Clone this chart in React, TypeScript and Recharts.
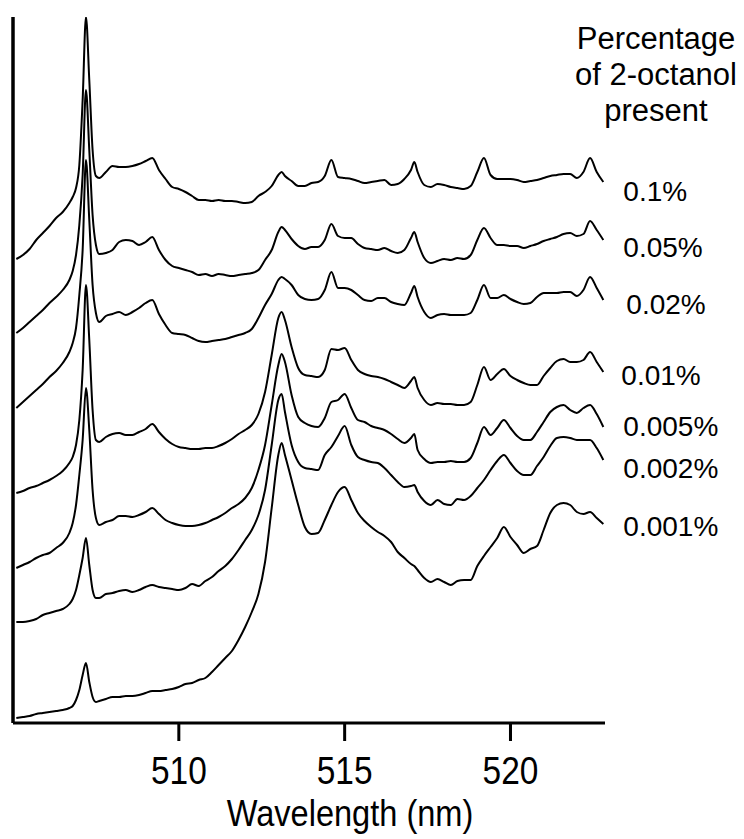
import React from "react";
import { Label, Line, LineChart, XAxis, YAxis } from "recharts";

// wavelength grid (nm) shared by every spectrum
const WAVELENGTH = [
  505.1, 505.3, 505.5, 505.7, 505.9, 506.1, 506.3, 506.5, 506.7, 506.8, 506.9,
  507.0, 507.1, 507.2, 507.3, 507.4, 507.5, 507.6, 507.8, 508.0, 508.2, 508.4,
  508.6, 508.8, 509.0, 509.2, 509.4, 509.6, 509.8, 510.0, 510.2, 510.4, 510.6,
  510.8, 511.0, 511.2, 511.4, 511.6, 511.8, 512.0, 512.2, 512.4, 512.6, 512.8,
  513.0, 513.1, 513.2, 513.4, 513.6, 513.8, 514.0, 514.2, 514.4, 514.6, 514.8,
  515.0, 515.2, 515.4, 515.6, 515.8, 516.0, 516.2, 516.4, 516.6, 516.8, 517.0,
  517.1, 517.2, 517.4, 517.6, 517.8, 518.0, 518.2, 518.4, 518.6, 518.8, 519.0,
  519.2, 519.4, 519.6, 519.8, 520.0, 520.2, 520.4, 520.6, 520.8, 521.0, 521.2,
  521.4, 521.6, 521.8, 522.0, 522.2, 522.4, 522.6, 522.8,
];

// offset intensities (a.u.), one array per 2-octanol level
const PCT_0_1 = [
  46.4, 46.8, 47.4, 48.3, 49.0, 49.7, 50.5, 51.1, 52.0, 52.6, 53.5, 55.8, 62.3,
  70.6, 64.3, 57.3, 54.7, 54.5, 55.1, 55.7, 55.6, 55.6, 55.7, 55.9, 56.2, 56.5,
  55.3, 54.4, 53.6, 53.4, 53.1, 52.7, 52.3, 52.3, 52.2, 52.3, 52.2, 52.2, 52.1,
  52.0, 52.1, 52.7, 53.1, 53.7, 54.8, 55.1, 54.7, 54.2, 53.7, 53.7, 54.0, 54.1,
  54.7, 56.3, 54.6, 54.5, 54.4, 54.2, 54.0, 54.1, 54.2, 54.3, 53.8, 53.9, 54.4,
  55.3, 56.1, 55.1, 53.8, 53.6, 53.9, 53.8, 53.6, 53.5, 53.4, 53.7, 55.1, 56.5,
  54.8, 54.4, 54.4, 54.4, 54.3, 54.1, 54.2, 54.3, 54.5, 54.7, 54.8, 54.9, 54.9,
  54.5, 55.1, 56.5, 55.1, 54.1,
];
const PCT_0_05 = [
  39.0, 39.5, 40.1, 40.7, 41.3, 42.0, 42.6, 43.3, 44.3, 45.2, 46.8, 49.8, 54.8,
  63.3, 57.3, 50.8, 47.8, 46.9, 47.0, 47.3, 48.1, 48.3, 48.2, 47.8, 48.1, 48.6,
  47.3, 46.3, 45.7, 45.5, 45.3, 45.1, 44.8, 44.9, 44.7, 44.9, 44.8, 44.7, 44.8,
  44.9, 45.0, 45.3, 46.3, 47.3, 49.1, 49.6, 49.3, 48.4, 47.7, 47.4, 47.6, 47.6,
  48.3, 49.9, 48.7, 48.5, 48.5, 47.9, 47.5, 47.4, 47.3, 47.5, 47.2, 47.0, 47.3,
  48.5, 49.1, 48.1, 46.5, 46.0, 46.2, 46.4, 46.3, 46.5, 46.4, 46.8, 48.3, 49.5,
  48.5, 47.8, 47.8, 47.7, 47.7, 47.5, 47.7, 47.9, 48.2, 48.4, 48.6, 48.9, 49.0,
  48.7, 48.9, 50.2, 49.3, 48.3,
];
const PCT_0_02 = [
  31.5, 32.1, 32.7, 33.3, 33.9, 34.6, 35.2, 36.0, 37.1, 38.0, 39.5, 42.8, 47.3,
  56.3, 50.3, 43.8, 41.0, 40.1, 40.7, 40.9, 41.1, 40.8, 41.1, 41.5, 42.0, 42.3,
  40.9, 39.8, 39.0, 38.9, 38.8, 38.5, 38.2, 38.1, 38.2, 38.3, 38.4, 38.6, 38.8,
  39.0, 39.4, 40.5, 41.8, 42.9, 44.3, 44.6, 44.4, 43.8, 42.8, 42.4, 42.3, 42.4,
  43.3, 45.1, 43.5, 43.5, 43.3, 42.8, 42.3, 42.2, 42.5, 42.5, 42.1, 41.9, 41.8,
  43.0, 43.7, 42.6, 41.1, 40.5, 40.8, 40.9, 40.8, 40.8, 40.8, 41.0, 42.3, 43.8,
  42.5, 42.5, 42.8, 42.4, 42.1, 41.9, 42.0, 42.6, 43.0, 43.0, 43.0, 43.1, 43.1,
  42.7, 43.3, 44.6, 43.5, 42.3,
];
const PCT_0_01 = [
  23.0, 23.2, 23.5, 23.7, 24.0, 24.3, 24.7, 25.2, 26.0, 26.6, 27.8, 30.3, 35.3,
  43.8, 38.3, 31.3, 28.3, 28.1, 28.6, 28.9, 29.0, 28.8, 28.8, 29.1, 29.4, 29.9,
  29.1, 28.4, 27.9, 27.6, 27.5, 27.4, 27.4, 27.5, 27.5, 27.7, 28.0, 28.4, 28.9,
  29.3, 29.8, 30.9, 33.1, 36.8, 40.5, 41.1, 40.3, 37.6, 35.5, 34.8, 34.7, 34.6,
  35.3, 37.4, 37.3, 37.5, 36.3, 35.3, 34.9, 34.7, 34.6, 34.4, 34.1, 33.8, 33.5,
  34.2, 34.6, 33.5, 32.3, 31.8, 32.0, 31.9, 31.9, 31.8, 31.8, 32.1, 33.8, 35.6,
  34.3, 34.9, 35.4, 34.7, 34.3, 34.0, 33.8, 33.8, 34.7, 35.5, 36.2, 36.4, 36.1,
  36.1, 36.3, 37.1, 36.1, 35.1,
];
const PCT_0_005 = [
  15.5, 15.8, 16.1, 16.5, 16.8, 17.0, 17.5, 18.0, 19.0, 20.0, 21.8, 24.8, 28.3,
  33.5, 29.3, 23.3, 20.5, 19.8, 20.1, 20.3, 20.7, 20.7, 20.6, 20.8, 21.1, 21.5,
  20.9, 20.3, 20.0, 19.8, 19.7, 19.7, 19.8, 20.0, 20.3, 20.6, 21.0, 21.5, 21.9,
  22.5, 23.5, 25.3, 27.8, 31.8, 35.8, 36.9, 36.1, 32.8, 30.6, 30.0, 29.7, 29.6,
  30.5, 32.1, 32.3, 32.9, 31.5, 30.3, 30.1, 29.7, 29.5, 29.3, 28.9, 28.4, 28.0,
  28.5, 28.9, 27.3, 26.4, 26.0, 26.1, 26.1, 26.2, 26.1, 26.1, 26.5, 28.0, 29.6,
  28.8, 29.5, 30.3, 29.5, 28.7, 28.3, 28.3, 29.1, 30.1, 31.1, 31.6, 31.8, 31.3,
  31.0, 31.5, 31.8, 30.9, 29.6,
];
const PCT_0_002 = [
  10.1, 10.1, 10.2, 10.4, 10.8, 11.0, 11.2, 11.4, 11.9, 12.4, 13.3, 14.8, 16.5,
  18.5, 15.8, 13.3, 12.5, 12.5, 12.9, 13.0, 13.2, 13.3, 13.1, 13.3, 13.6, 13.8,
  13.6, 13.5, 13.4, 13.3, 13.5, 13.9, 13.7, 14.2, 14.6, 15.2, 15.7, 16.4, 17.3,
  18.3, 19.3, 20.8, 23.3, 27.8, 32.3, 32.9, 31.1, 27.8, 26.1, 25.5, 25.4, 25.3,
  26.8, 27.6, 28.7, 29.7, 27.8, 26.6, 26.3, 26.1, 26.0, 25.5, 24.8, 24.1, 23.6,
  23.7, 23.8, 23.1, 22.2, 21.8, 22.3, 21.9, 21.8, 22.4, 22.3, 22.7, 23.5, 24.3,
  25.3, 26.2, 26.8, 26.0, 25.2, 24.8, 24.8, 25.7, 26.6, 27.7, 28.5, 28.6, 28.5,
  28.3, 28.3, 28.3, 27.5, 26.3,
];
const PCT_0_001 = [
  0.5, 0.6, 0.7, 0.9, 1.0, 1.1, 1.2, 1.3, 1.5, 1.7, 2.3, 3.3, 4.8, 6.0, 4.1,
  2.6, 2.1, 2.2, 2.4, 2.6, 2.6, 2.7, 2.7, 2.8, 3.0, 3.2, 3.2, 3.3, 3.4, 3.6,
  3.9, 4.0, 4.3, 4.5, 5.1, 5.8, 6.5, 7.2, 8.3, 9.6, 11.1, 12.9, 16.1, 21.5,
  26.8, 28.0, 26.8, 24.3, 21.8, 19.6, 18.9, 19.0, 20.3, 21.8, 23.1, 23.6, 22.3,
  21.0, 20.2, 19.6, 19.1, 18.7, 18.1, 17.1, 16.5, 15.9, 15.7, 15.3, 14.5, 14.1,
  14.4, 14.1, 13.8, 14.2, 14.3, 14.3, 15.7, 16.7, 17.6, 18.5, 19.6, 18.6, 17.8,
  17.0, 17.4, 17.7, 19.3, 21.0, 21.8, 22.0, 21.8, 21.1, 20.9, 21.1, 20.5, 19.9,
];

const SERIES = [
  { key: "p0_1", name: "0.1%", values: PCT_0_1 },
  { key: "p0_05", name: "0.05%", values: PCT_0_05 },
  { key: "p0_02", name: "0.02%", values: PCT_0_02 },
  { key: "p0_01", name: "0.01%", values: PCT_0_01 },
  { key: "p0_005", name: "0.005%", values: PCT_0_005 },
  { key: "p0_002", name: "0.002%", values: PCT_0_002 },
  { key: "p0_001", name: "0.001%", values: PCT_0_001 },
];

// where each end label sits relative to the last point of its trace
const LABEL_NUDGE: Record<string, { dx: number; dy: number }> = {
  p0_1: { dx: 20, dy: 19 },
  p0_05: { dx: 20, dy: 17 },
  p0_02: { dx: 23, dy: 14 },
  p0_01: { dx: 18, dy: 13 },
  p0_005: { dx: 20, dy: 9 },
  p0_002: { dx: 20, dy: 18 },
  p0_001: { dx: 20, dy: 12 },
};

const FONT = '"Liberation Sans", Arial, Helvetica, sans-serif';

const rows = WAVELENGTH.map((wl, i) => {
  const row: Record<string, number> = { wl };
  SERIES.forEach((s) => {
    row[s.key] = s.values[i];
  });
  return row;
});

function WavelengthTick({ x, y, payload }: any) {
  return (
    <g transform={`translate(${x},${y})`}>
      <text
        transform="scale(0.88,1)"
        y={43}
        textAnchor="middle"
        fontSize={38}
        fontFamily={FONT}
        fill="#000"
      >
        {payload.value}
      </text>
    </g>
  );
}

function AxisTitle({ viewBox }: any) {
  const cx = viewBox.x + viewBox.width / 2 + 41;
  const by = viewBox.y + viewBox.height - 13;
  return (
    <g transform={`translate(${cx},${by})`}>
      <text
        transform="scale(0.88,1)"
        textAnchor="middle"
        fontSize={37}
        fontFamily={FONT}
        fill="#000"
      >
        Wavelength (nm)
      </text>
    </g>
  );
}

const endLabel = (key: string, name: string) => (props: any) => {
  if (props.index !== WAVELENGTH.length - 1) return null;
  const n = LABEL_NUDGE[key];
  return (
    <text
      x={props.x + n.dx}
      y={props.y + n.dy}
      fontSize={28}
      fontFamily={FONT}
      fill="#000"
    >
      {name}
    </text>
  );
};

export default function App() {
  return (
    <div style={{ position: "relative", width: 744, height: 839, overflow: "hidden" }}>
      <style>{`body { margin: 0; }`}</style>
      <LineChart
        width={744}
        height={839}
        data={rows}
        margin={{ top: 17, right: 139, left: 11, bottom: 0 }}
      >
        <XAxis
          dataKey="wl"
          type="number"
          domain={[505, 522.85]}
          ticks={[510, 515, 520]}
          allowDataOverflow
          height={116}
          tickSize={18}
          tickMargin={0}
          axisLine={{ stroke: "#000", strokeWidth: 3 }}
          tickLine={{ stroke: "#000", strokeWidth: 3 }}
          tick={<WavelengthTick />}
        >
          <Label content={<AxisTitle />} />
        </XAxis>
        <YAxis
          type="number"
          domain={[0, 70.6]}
          allowDataOverflow
          width={2}
          tick={false}
          tickLine={false}
          axisLine={{ stroke: "#000", strokeWidth: 3.5 }}
        />
        {SERIES.map((s) => (
          <Line
            key={s.key}
            dataKey={s.key}
            type="monotone"
            stroke="#000"
            strokeWidth={2}
            dot={false}
            activeDot={false}
            isAnimationActive={false}
            label={endLabel(s.key, s.name)}
          />
        ))}
      </LineChart>
      <div
        style={{
          position: "absolute",
          left: 568,
          top: 21,
          width: 176,
          textAlign: "center",
          fontFamily: FONT,
          fontSize: 31,
          lineHeight: "36px",
          color: "#000",
        }}
      >
        Percentage
        <br />
        of 2-octanol
        <br />
        present
      </div>
    </div>
  );
}
